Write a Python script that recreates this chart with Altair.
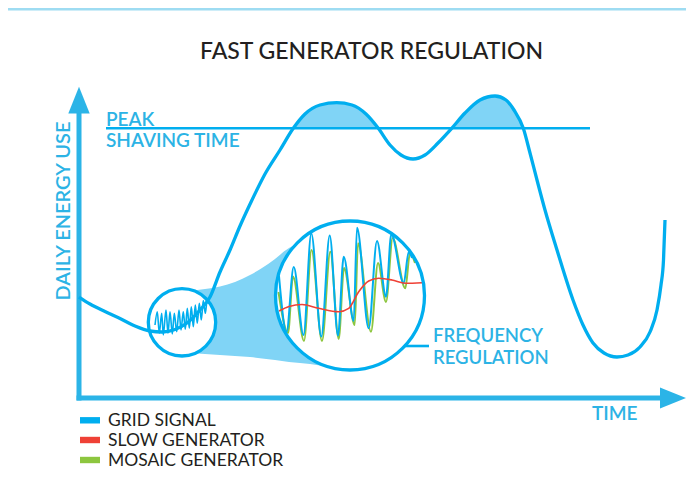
import altair as alt
import pandas as pd

# ---------------- chart data (reference pixel units, y grows downward) ----------------
# Grid signal (daily energy use over time)
grid_x = [79, 90, 105, 120, 135, 150, 162, 175, 187, 200, 210, 220, 230, 240, 252, 265, 280, 293.3,
          305, 320, 336.7, 352, 366, 378.3, 390, 401, 413, 425, 438, 451.7, 465, 480, 495, 506, 514,
          523.3, 530, 537, 545, 557, 573, 583, 593, 604, 617, 628, 640, 650, 657, 661, 663.5, 665]
grid_y = [297, 304, 311.5, 318.5, 326, 331, 332, 329.5, 323, 310, 297, 272, 250, 226, 200, 174, 150, 128.3,
          114, 105, 102.7, 105, 114, 128.3, 145, 155, 159, 155, 143, 128.3, 113, 100, 96, 100, 110,
          128.3, 153, 180, 210, 250, 300, 325, 343, 353, 357, 355, 347, 332, 310, 285, 260, 220]

peak_level = 128.3
peak_line_x = [106, 590]

# small magnifier wiggle (grid signal detail)
wig_x = [155, 157.3, 159.3, 161.7, 163.3, 166, 168, 170, 172.3, 174.3, 176.7, 179, 181, 183.3,
         185.3, 187.3, 189.3, 191.3, 193.3, 195.3, 197.3, 199.3, 201.3, 203.3, 205.3, 207.3, 208.7]
wig_y = [325, 311.7, 333.3, 313.3, 335, 310, 333.3, 311.7, 334, 313.3, 331.7, 310, 330, 311.7,
         329.3, 308.3, 328.3, 306.7, 326.7, 305, 323.3, 303.3, 320, 300.5, 313.3, 299, 303]

# zoomed-in signals inside the big circle
blue_x = [279, 286.5, 293.7, 303.5, 311.3, 321.3, 329.7, 338, 343.7, 353.7, 357, 368.7, 377, 386,
          391.3, 403.7, 408.7, 412]
blue_y = [276, 332, 267, 335, 233.5, 336.5, 235.5, 335.5, 256.7, 321, 227.7, 328.3, 241, 296.7,
          234.3, 283.3, 252, 258]
green_x = [278.5, 288, 293, 304, 311.5, 322, 330.3, 338.7, 344, 354.7, 358, 371, 378, 386, 392.7,
           405.3, 410, 415]
green_y = [292, 333, 276.5, 341, 250, 341, 251.7, 339, 268, 325, 243.3, 331.7, 263, 302, 238,
           288.3, 253, 263]
red_x = [279, 289, 302, 318.7, 338.7, 348.7, 358.7, 368.7, 378.7, 392, 405.3, 422]
red_y = [311, 306.5, 304.5, 308.3, 311.7, 308.3, 291.7, 281, 278.3, 280, 283.3, 282.7]

# funnel between the two magnifier circles
funnel_x = [190, 205, 220, 235, 250, 262, 275, 289, 300, 310, 320, 330, 340]
funnel_top = [291, 289, 286.5, 282, 275, 268, 259, 248, 244, 245, 247, 250, 255]
funnel_bot = [353, 354, 355, 356, 357, 358.5, 360, 362, 363, 364, 365.5, 367, 368.5]

# magnifier circles: centre x, centre y, radius
circle_cx = [182, 350]
circle_cy = [322.3, 295.5]
circle_r = [33.7, 74.5]

legend_labels = ["GRID SIGNAL", "SLOW GENERATOR", "MOSAIC GENERATOR"]
legend_colors = ["#00aeef", "#ef4136", "#8dc63f"]
legend_rows = [420.3, 440, 460]

title_text = "FAST GENERATOR REGULATION"

# ---------------- styling ----------------
BLUE = "#00aeef"
AXIS_BLUE = "#2bb4e7"
LABEL_BLUE = "#2cb3e5"
LIGHT = "#80d4f6"
BAND = "#9edcf2"
RED = "#ef4136"
GREEN = "#8dc63f"
DARK = "#231f20"
FONT = "Lato"

W, H = 678, 477
xs = alt.Scale(domain=[8, 686], nice=False, zero=False)
ys = alt.Scale(domain=[8, 485], nice=False, zero=False, reverse=True)


def xq(f="x"):
    return alt.X(f + ":Q", scale=xs, axis=None)


def yq(f="y"):
    return alt.Y(f + ":Q", scale=ys, axis=None)


layers = []

# top band
band_df = pd.DataFrame({"x": [8], "x2": [686], "y": [8], "y2": [10.5]})
layers.append(alt.Chart(band_df).mark_rect(color=BAND).encode(
    x=xq(), x2=alt.X2("x2:Q"), y=yq(), y2=alt.Y2("y2:Q")))

# funnel
fun_df = pd.DataFrame({"x": funnel_x, "y": funnel_top, "y2": funnel_bot})
layers.append(alt.Chart(fun_df).mark_area(color=LIGHT, opacity=1, interpolate="monotone").encode(
    x=xq(), y=yq(), y2=alt.Y2("y2:Q")))

# peak fills above the peak shaving line
grid_df = pd.DataFrame({"x": grid_x, "y": grid_y})
peak_df = grid_df[grid_df["y"] <= peak_level].copy()
peak_df["seg"] = ["a" if v < 420 else "b" for v in peak_df["x"]]
peak_df["y2"] = peak_level
layers.append(alt.Chart(peak_df).mark_area(color=LIGHT, opacity=1, interpolate="monotone").encode(
    x=xq(), y=yq(), y2=alt.Y2("y2:Q"), detail="seg:N"))

# circle fills
circ_df = pd.DataFrame({"x": circle_cx, "y": circle_cy, "s": [(2 * r) ** 2 for r in circle_r]})
layers.append(alt.Chart(circ_df).mark_point(shape="circle", filled=True, color="white", opacity=1,
                                            strokeWidth=0).encode(
    x=xq(), y=yq(), size=alt.Size("s:Q", scale=None, legend=None)))

# peak shaving line
pl_df = pd.DataFrame({"x": [peak_line_x[0]], "x2": [peak_line_x[1]], "y": [peak_level]})
layers.append(alt.Chart(pl_df).mark_rule(color=BLUE, strokeWidth=2.6).encode(
    x=xq(), x2=alt.X2("x2:Q"), y=yq()))

# axes
vax_df = pd.DataFrame({"x": [79], "y": [400.5], "y2": [108]})
layers.append(alt.Chart(vax_df).mark_rule(color=AXIS_BLUE, strokeWidth=5).encode(
    x=xq(), y=yq(), y2=alt.Y2("y2:Q")))
hax_df = pd.DataFrame({"x": [76.5], "x2": [664], "y": [398]})
layers.append(alt.Chart(hax_df).mark_rule(color=AXIS_BLUE, strokeWidth=5).encode(
    x=xq(), x2=alt.X2("x2:Q"), y=yq()))
va_df = pd.DataFrame({"x": [68.3, 79, 89.7], "y": [113.5, 86.7, 113.5], "y2": [113.5] * 3})
layers.append(alt.Chart(va_df).mark_area(color=AXIS_BLUE, opacity=1).encode(
    x=xq(), y=yq(), y2=alt.Y2("y2:Q")))
ha_df = pd.DataFrame({"y": [387.5, 398, 408.5], "x": [660, 686, 660], "x2": [660] * 3})
layers.append(alt.Chart(ha_df).mark_area(color=AXIS_BLUE, opacity=1, orient="horizontal").encode(
    y=yq(), x=xq(), x2=alt.X2("x2:Q")))

# grid signal
layers.append(alt.Chart(grid_df).mark_line(color=BLUE, strokeWidth=3.3, interpolate="monotone").encode(
    x=xq(), y=yq()))

# small wiggle
wig_df = pd.DataFrame({"x": wig_x, "y": wig_y})
layers.append(alt.Chart(wig_df).mark_line(color=BLUE, strokeWidth=1.6, interpolate="monotone").encode(
    x=xq(), y=yq()))

# zoomed signals
g_df = pd.DataFrame({"x": green_x, "y": green_y})
layers.append(alt.Chart(g_df).mark_line(color=GREEN, strokeWidth=2, interpolate="monotone").encode(
    x=xq(), y=yq()))
b_df = pd.DataFrame({"x": blue_x, "y": blue_y})
layers.append(alt.Chart(b_df).mark_line(color=BLUE, strokeWidth=2, interpolate="monotone").encode(
    x=xq(), y=yq()))
r_df = pd.DataFrame({"x": red_x, "y": red_y})
layers.append(alt.Chart(r_df).mark_line(color=RED, strokeWidth=1.6, interpolate="monotone").encode(
    x=xq(), y=yq()))

# circle outlines
layers.append(alt.Chart(circ_df).mark_point(shape="circle", filled=False, color=BLUE, opacity=1,
                                            strokeWidth=3.3).encode(
    x=xq(), y=yq(), size=alt.Size("s:Q", scale=None, legend=None)))

# connector to FREQUENCY REGULATION
con_df = pd.DataFrame({"x": [404], "x2": [429], "y": [346]})
layers.append(alt.Chart(con_df).mark_rule(color=BLUE, strokeWidth=2.6).encode(
    x=xq(), x2=alt.X2("x2:Q"), y=yq()))

# blue labels
lab_df = pd.DataFrame({
    "x": [106, 106, 592],
    "y": [125.5, 147, 420],
    "t": ["PEAK", "SHAVING TIME", "TIME"],
})
layers.append(alt.Chart(lab_df).mark_text(align="left", baseline="alphabetic", font=FONT, fontSize=19,
                                          fontWeight=600, color=LABEL_BLUE).encode(
    x=xq(), y=yq(), text="t:N"))

freq_df = pd.DataFrame({"x": [433, 433], "y": [341.5, 364], "t": ["FREQUENCY", "REGULATION"]})
layers.append(alt.Chart(freq_df).mark_text(align="left", baseline="alphabetic", font=FONT, fontSize=18.5,
                                           fontWeight=600, color=LABEL_BLUE).encode(
    x=xq(), y=yq(), text="t:N"))

ylab_df = pd.DataFrame({"x": [70], "y": [211], "t": ["DAILY ENERGY USE"]})
layers.append(alt.Chart(ylab_df).mark_text(align="center", baseline="alphabetic", font=FONT, fontSize=20,
                                           fontWeight=600, angle=270, color=LABEL_BLUE).encode(
    x=xq(), y=yq(), text="t:N"))

# title
t_df = pd.DataFrame({"x": [371.5], "y": [59], "t": [title_text]})
layers.append(alt.Chart(t_df).mark_text(align="center", baseline="alphabetic", font=FONT, fontSize=23,
                                        fontWeight=500, color=DARK).encode(
    x=xq(), y=yq(), text="t:N"))

# legend
leg_sw = pd.DataFrame({
    "x": [80] * 3, "x2": [100] * 3,
    "y": [r - 3.2 for r in legend_rows], "y2": [r + 3.2 for r in legend_rows],
    "c": legend_colors,
})
layers.append(alt.Chart(leg_sw).mark_rect().encode(
    x=xq(), x2=alt.X2("x2:Q"), y=yq(), y2=alt.Y2("y2:Q"), color=alt.Color("c:N", scale=None)))
leg_tx = pd.DataFrame({"x": [108] * 3, "y": [r + 5.7 for r in legend_rows], "t": legend_labels})
layers.append(alt.Chart(leg_tx).mark_text(align="left", baseline="alphabetic", font=FONT, fontSize=17.5,
                                          color=DARK).encode(
    x=xq(), y=yq(), text="t:N"))

chart = alt.layer(*layers).properties(
    width=W, height=H, padding=0, background="white",
    autosize=alt.AutoSizeParams(type="none"),
).configure_view(stroke=None)

chart.save("out.html", embed_options={"renderer": "svg", "actions": False})
